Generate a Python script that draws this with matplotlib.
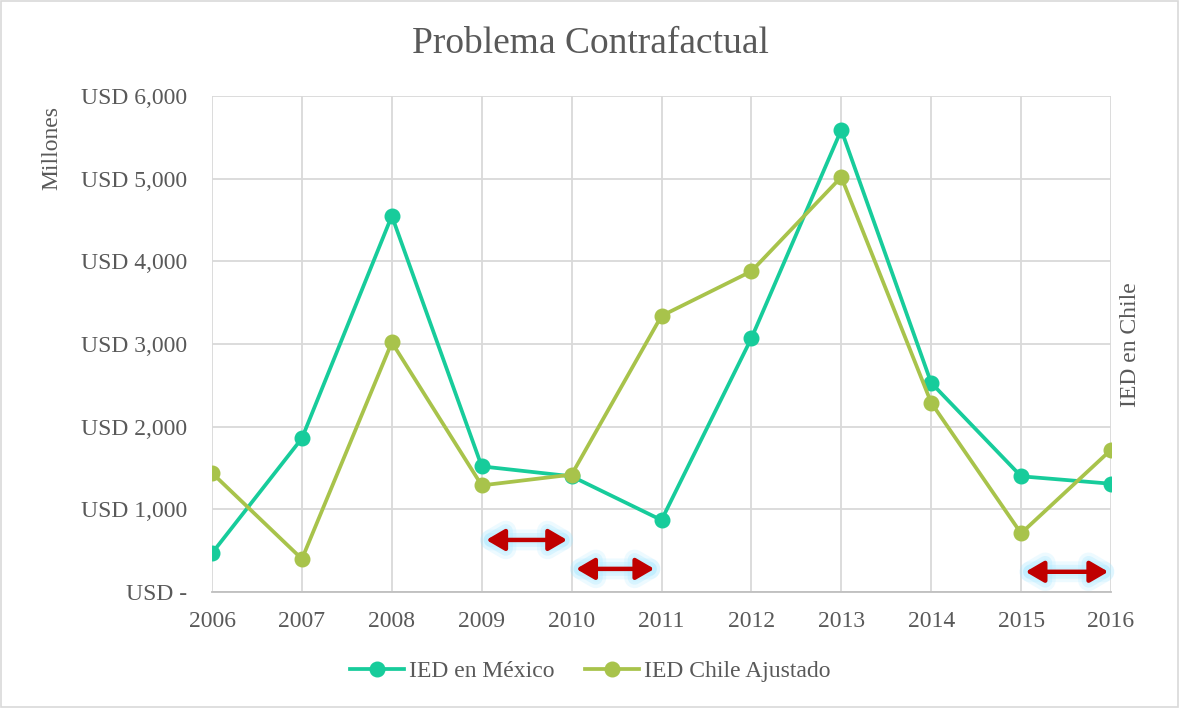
import matplotlib
matplotlib.use("Agg")
import matplotlib.pyplot as plt
import matplotlib.patheffects as pe
from matplotlib.patches import Rectangle

plt.rcParams.update({"font.family": ["Liberation Serif", "DejaVu Serif"], "font.size": 17})

years = [2006, 2007, 2008, 2009, 2010, 2011, 2012, 2013, 2014, 2015, 2016]
ied_mexico = [470, 1860, 4550, 1520, 1400, 870, 3070, 5590, 2530, 1400, 1310]
ied_chile = [1440, 400, 3020, 1290, 1420, 3340, 3880, 5020, 2290, 710, 1720]
yticks = [0, 1000, 2000, 3000, 4000, 5000, 6000]
ytick_labels = ["USD -", "USD 1,000", "USD 2,000", "USD 3,000", "USD 4,000", "USD 5,000", "USD 6,000"]
# double arrows marking the gaps (start year, end year, level)
gaps = [(2009.05, 2009.95, 630), (2010.05, 2010.92, 280), (2015.05, 2015.97, 245)]

TEXT = "#595959"; GRID = "#D9D9D9"
MEX = "#17CC9B"; CHI = "#A8C34B"

fig = plt.figure(figsize=(11.8, 7.08), dpi=100)
ax = fig.add_axes([0.1797, 0.1638, 0.9415 - 0.1797, 0.8644 - 0.1638])

ax.plot(years, ied_mexico, color=MEX, lw=2.7, marker="o", ms=10.5, label="IED en México", zorder=3)
ax.plot(years, ied_chile, color=CHI, lw=2.7, marker="o", ms=10.5, label="IED Chile Ajustado", zorder=3)

# soft blue glow drawn first, solid red arrow on top
glow = [pe.Stroke(linewidth=15, foreground="#a8e8ff", alpha=0.2),
        pe.Stroke(linewidth=10, foreground="#a8e8ff", alpha=0.3),
        pe.Stroke(linewidth=6, foreground="#c8f2ff", alpha=0.5)]
style = "<|-|>,head_length=0.55,head_width=0.32"
for x0, x1, y in gaps:
    ax.annotate("", xy=(x1, y), xytext=(x0, y),
                arrowprops=dict(arrowstyle=style, color="#a8e8ff", lw=3.2, mutation_scale=20,
                                shrinkA=0, shrinkB=0, path_effects=glow), zorder=4)
    ax.annotate("", xy=(x1, y), xytext=(x0, y),
                arrowprops=dict(arrowstyle=style, color="#C00000", lw=3.2, mutation_scale=20,
                                shrinkA=0, shrinkB=0), zorder=5)

ax.set_xlim(2006, 2016); ax.set_ylim(0, 6000)
ax.set_xticks(years); ax.set_xticklabels([str(y) for y in years])
ax.set_yticks(yticks); ax.set_yticklabels(ytick_labels)
ax.tick_params(length=0, colors=TEXT, labelsize=17)
ax.tick_params(axis="y", pad=18); ax.tick_params(axis="x", pad=14)
ax.grid(True, color=GRID, lw=1.3, zorder=0)
ax.set_axisbelow(True)
for s in ("top", "right", "left"):
    ax.spines[s].set_visible(False)
ax.spines["bottom"].set_color("#BFBFBF"); ax.spines["bottom"].set_linewidth(1.3)

fig.text(0.5, 0.938, "Problema Contrafactual", ha="center", va="center", fontsize=27, color=TEXT)
fig.text(0.044, 0.791, "Millones", rotation=90, ha="center", va="center", fontsize=17, color=TEXT)
fig.text(0.958, 0.513, "IED en Chile", rotation=90, ha="center", va="center", fontsize=17, color=TEXT)

fig.legend(loc="center", bbox_to_anchor=(0.5, 0.052), ncol=2, frameon=False, fontsize=17,
           labelcolor=TEXT, handlelength=2.3, columnspacing=1.3, handletextpad=0.2)

fig.patches.append(Rectangle((0.001, 0.001), 0.997, 0.997, transform=fig.transFigure,
                             fill=False, ec="#D9D9D9", lw=1.2))
fig.savefig("out.png", dpi=100)
